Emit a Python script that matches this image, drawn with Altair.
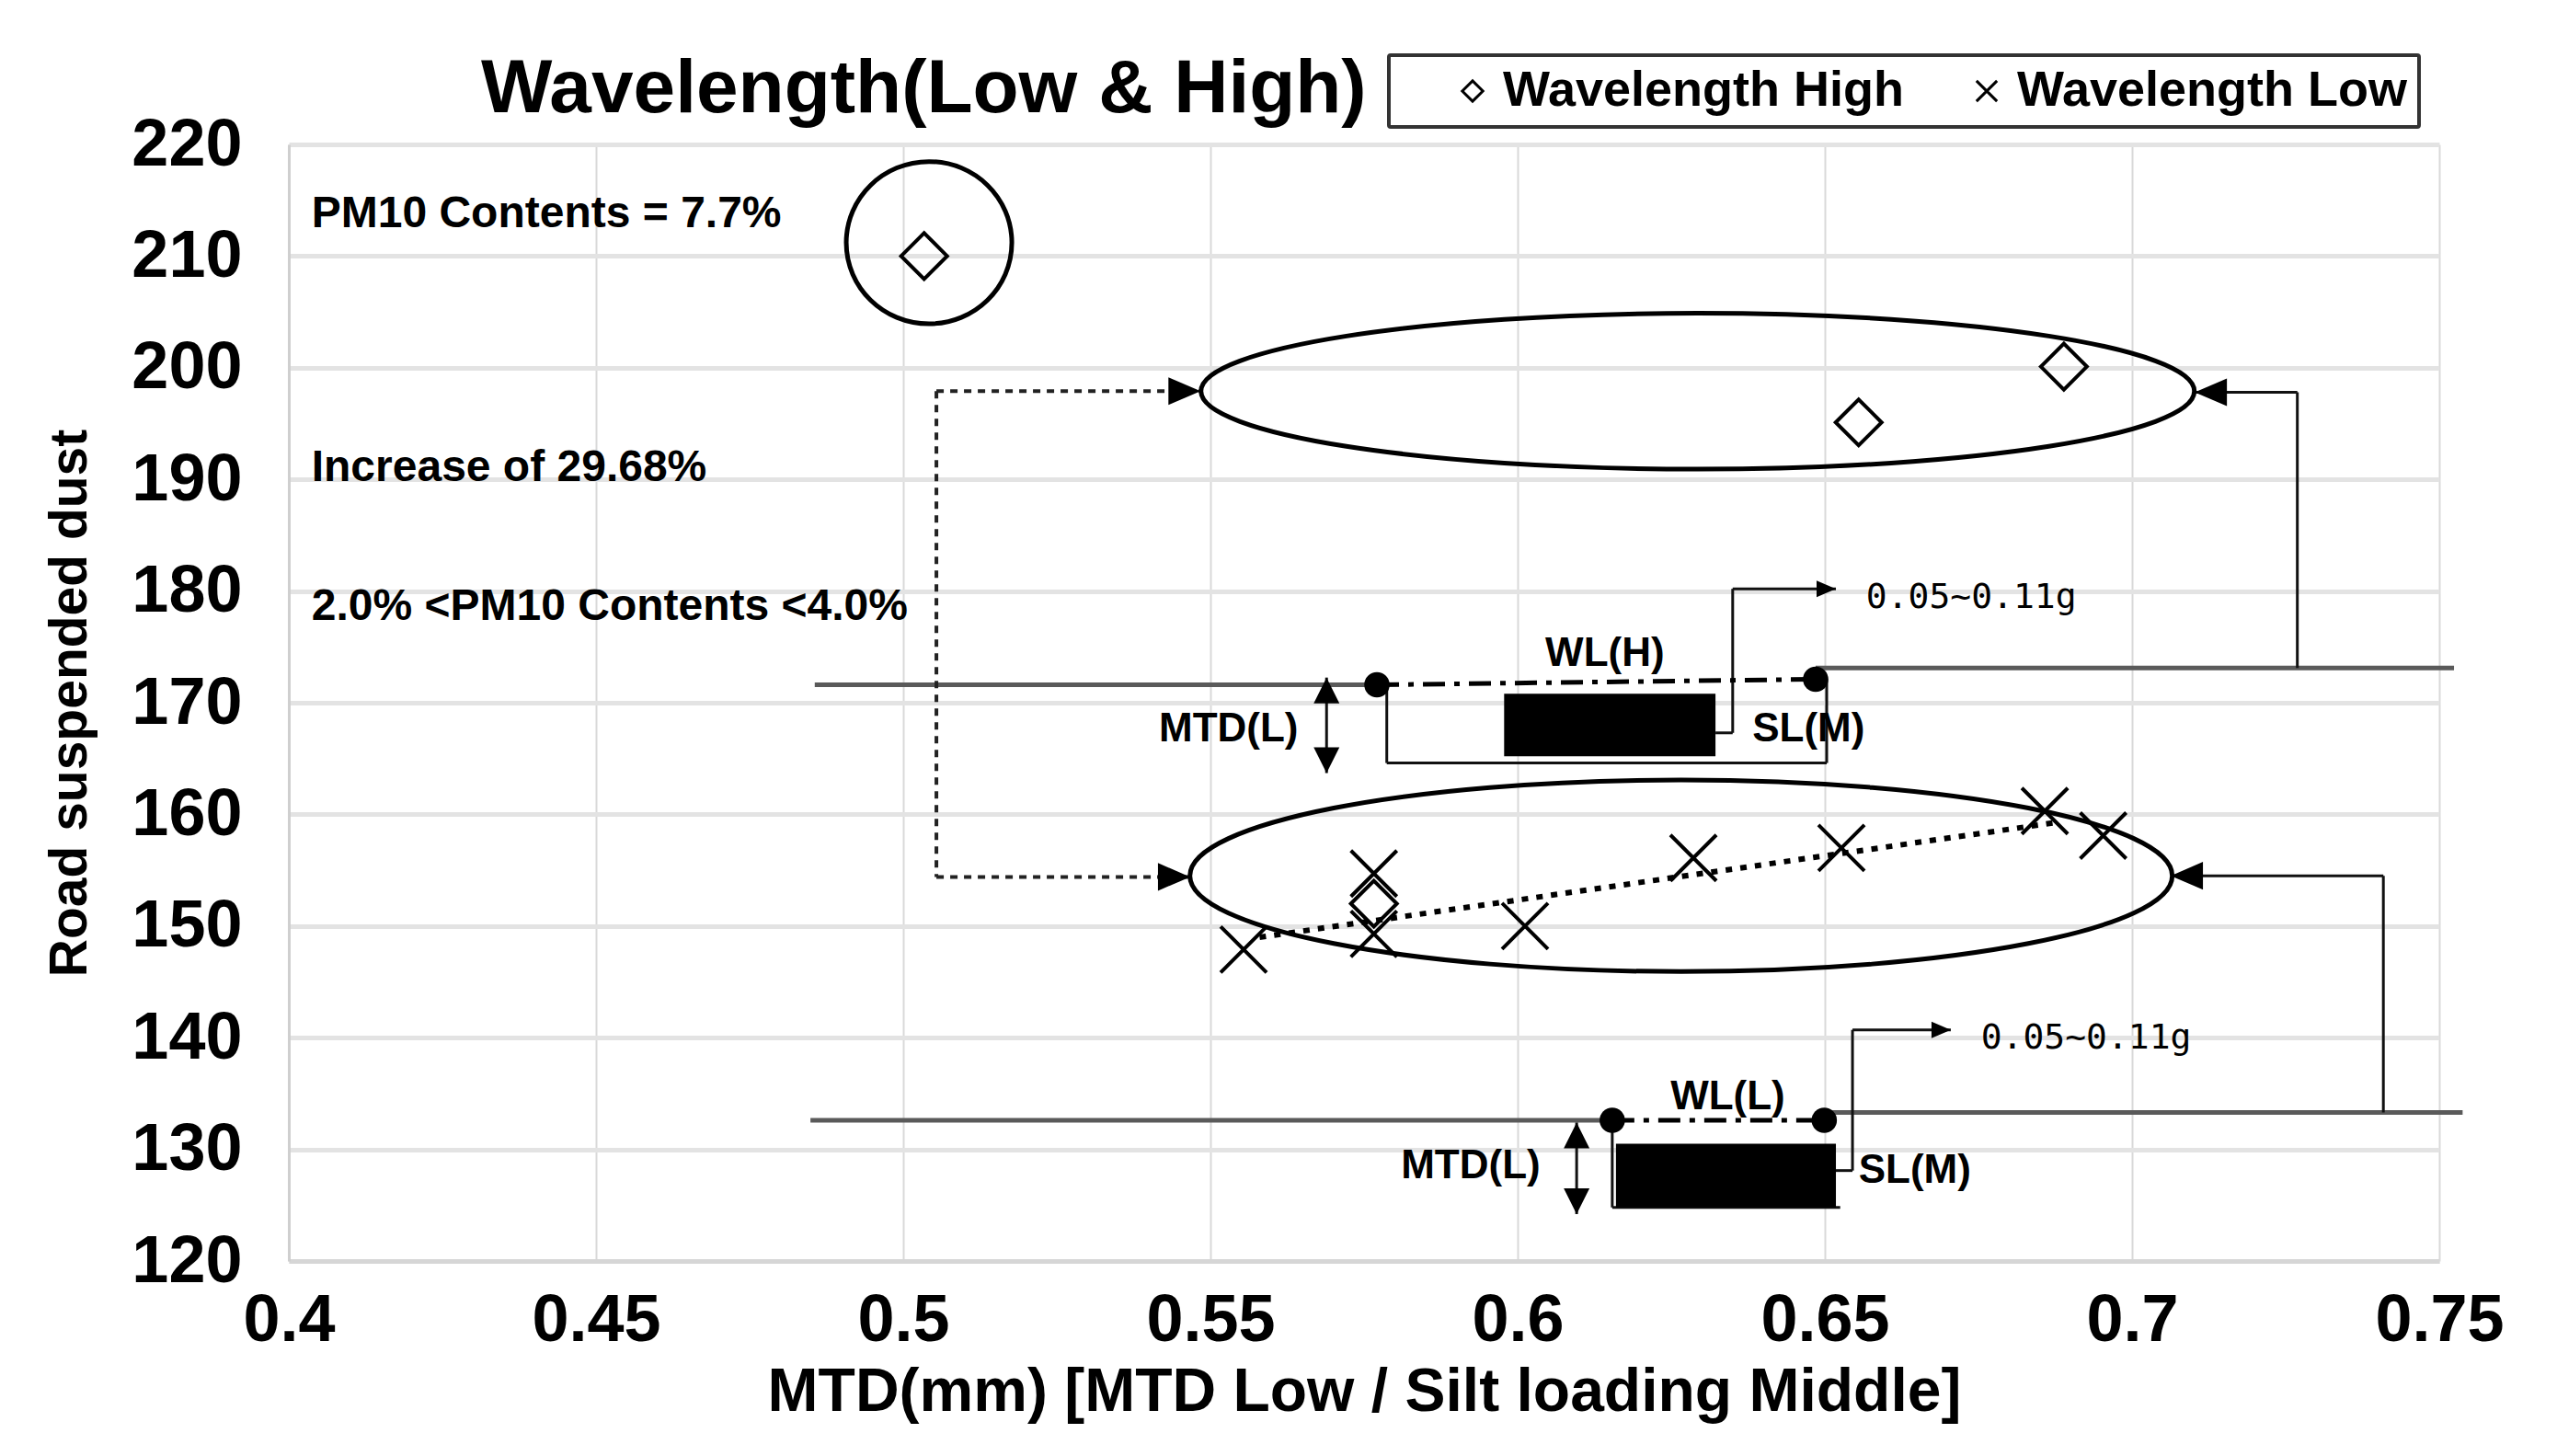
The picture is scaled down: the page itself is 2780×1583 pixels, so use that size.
import altair as alt
import pandas as pd

# ---------------- data ----------------
series_names = ["Wavelength High", "Wavelength Low"]
high_x = [0.5034, 0.6555, 0.6889, 0.5766]
high_y = [210.0, 195.1, 200.1, 152.0]
low_x = [0.5554, 0.5766, 0.5766, 0.6012, 0.6286, 0.6527, 0.6858, 0.6953]
low_y = [147.9, 154.7, 149.3, 150.0, 156.1, 157.0, 160.3, 158.1]

trend_x = [0.558, 0.688]
trend_y = [149.0, 159.3]

# rings (circle around the 7.7 % point, two group ellipses)
ring_x = [0.5042, 0.6293, 0.6266]
ring_y = [211.2, 197.9, 154.5]

# gray "road surface" lines
road_x = [0.4856, 0.6485, 0.4849, 0.6499]
road_x2 = [0.5771, 0.7524, 0.6154, 0.7538]
road_y = [171.6, 173.1, 132.6, 133.3]
road_y2 = [171.6, 173.1, 132.6, 133.3]

# thin solid connector segments
conn_x = [0.7269, 0.7269, 0.7409, 0.7409, 0.5787, 0.5787, 0.6503, 0.6322, 0.6350, 0.6350,
          0.6154, 0.6154, 0.6518, 0.6545, 0.6545, 0.5689, 0.6096]
conn_x2 = [0.7269, 0.7102, 0.7409, 0.7063, 0.5787, 0.6503, 0.6503, 0.6350, 0.6350, 0.6518,
           0.6154, 0.6525, 0.6545, 0.6545, 0.6705, 0.5689, 0.6096]
conn_y = [173.1, 197.8, 133.3, 154.5, 171.6, 164.6, 172.1, 167.3, 167.3, 180.2,
          132.6, 124.8, 128.1, 128.1, 140.7, 172.25, 132.4]
conn_y2 = [197.8, 197.8, 154.5, 154.5, 164.6, 164.6, 164.6, 167.3, 180.2, 180.2,
           124.8, 124.8, 128.1, 140.7, 140.7, 163.7, 124.2]

# dotted connector on the left
dot_x = [0.5054, 0.5054, 0.5054]
dot_x2 = [0.5054, 0.5484, 0.5467]
dot_y = [197.9, 197.9, 154.4]
dot_y2 = [154.4, 197.9, 154.4]

# dash-dot lines between the black dots
dd_x = [0.5771, 0.6154]
dd_x2 = [0.6485, 0.6499]
dd_y = [171.6, 132.6]
dd_y2 = [172.1, 132.6]

# black dots
bdot_x = [0.5771, 0.6485, 0.6154, 0.6499]
bdot_y = [171.6, 172.1, 132.6, 132.6]

# black boxes
box_x = [0.5978, 0.6160]
box_x2 = [0.6322, 0.6518]
box_y = [165.2, 124.8]
box_y2 = [170.8, 130.5]

# arrow heads (tip positions)
arrR_x = [0.5484, 0.5467]
arrR_y = [197.9, 154.4]
arrL_x = [0.7102, 0.7063]
arrL_y = [197.8, 154.5]
arrS_x = [0.6518, 0.6705]
arrS_y = [180.2, 140.7]
arrU_x = [0.5689, 0.6096]
arrU_y = [172.25, 132.4]
arrD_x = [0.5689, 0.6096]
arrD_y = [163.7, 124.2]

# texts
note_text = ["PM10 Contents = 7.7%", "Increase of 29.68%", "2.0% <PM10 Contents <4.0%"]
note_x = [0.4037, 0.4037, 0.4037]
note_y = [213.7, 191.0, 178.6]
wl_text = ["WL(H)", "WL(L)"]
wl_x = [0.6142, 0.6342]
wl_y = [174.4, 134.7]
mtd_text = ["MTD(L)", "MTD(L)"]
mtd_x = [0.5643, 0.6037]
mtd_y = [167.6, 128.5]
sl_text = ["SL(M)", "SL(M)"]
sl_x = [0.6382, 0.6555]
sl_y = [167.6, 128.1]
g_text = ["0.05~0.11g", "0.05~0.11g"]
g_x = [0.6567, 0.6754]
g_y = [179.4, 139.9]

x_ticks = [0.4, 0.45, 0.5, 0.55, 0.6, 0.65, 0.7, 0.75]
y_ticks = [120, 130, 140, 150, 160, 170, 180, 190, 200, 210, 220]

# ---------------- styling helpers ----------------
FONT = "Liberation Sans"
XPATH = "M -1 -1 L 1 1 M -1 1 L 1 -1"
ARROW_R = "M 0 0 L -1 -0.43 L -1 0.43 Z"
ARROW_L = "M 0 0 L 1 -0.43 L 1 0.43 Z"
ARROW_U = "M 0 0 L -0.5 1 L 0.5 1 Z"
ARROW_D = "M 0 0 L -0.5 -1 L 0.5 -1 Z"
NBSP2 = "\u00a0\u00a0"


def ellipse_path(r):
    k = 0.5523
    return (f"M -1 0 C -1 {-k*r:.4f} {-k:.4f} {-r:.4f} 0 {-r:.4f} "
            f"C {k:.4f} {-r:.4f} 1 {-k*r:.4f} 1 0 "
            f"C 1 {k*r:.4f} {k:.4f} {r:.4f} 0 {r:.4f} "
            f"C {-k:.4f} {r:.4f} -1 {k*r:.4f} -1 0 Z")


xscale = alt.Scale(domain=[0.4, 0.75], nice=False, zero=False)
yscale = alt.Scale(domain=[120, 220], nice=False, zero=False)

xaxis = alt.Axis(values=x_ticks, format=".2~f", title="MTD(mm) [MTD Low / Silt loading Middle]",
                 grid=True, gridColor="#d9d9d9", gridWidth=2, ticks=False,
                 domainColor="#d6d6d6", domainWidth=5,
                 labelFont=FONT, labelFontSize=72, labelFontWeight="bold", labelColor="black",
                 labelPadding=29, labelFlush=False, labelOverlap=False,
                 titleFont=FONT, titleFontSize=66, titleFontWeight="bold", titleColor="black",
                 titleX=1169, titleY=162, titleBaseline="alphabetic", titleAlign="center")
yaxis = alt.Axis(values=y_ticks, format="d", title="Road suspended dust",
                 grid=True, gridColor="#e3e3e3", gridWidth=5, ticks=False,
                 domainColor="#cfcfcf", domainWidth=3,
                 labelFont=FONT, labelFontSize=72, labelFontWeight="bold", labelColor="black",
                 labelPadding=51, labelFlush=False, labelOverlap=False,
                 titleFont=FONT, titleFontSize=57, titleFontWeight="bold", titleColor="black",
                 titleX=-221, titleY=607, titleAngle=-90, titleBaseline="alphabetic",
                 titleAlign="center")


def X():
    return alt.X("x:Q", scale=xscale, axis=xaxis)


def Y():
    return alt.Y("y:Q", scale=yscale, axis=yaxis)


def seg_df(xs, x2s, ys, y2s):
    return pd.DataFrame({"x": xs, "x2": x2s, "y": ys, "y2": y2s})


def pt_df(xs, ys, **extra):
    d = {"x": xs, "y": ys}
    d.update(extra)
    return pd.DataFrame(d)


def rules(df, **kw):
    return alt.Chart(df).mark_rule(**kw).encode(x=X(), x2="x2:Q", y=Y(), y2="y2:Q")


def arrows(xs, ys, path, size):
    return alt.Chart(pt_df(xs, ys)).mark_point(shape=path, size=size, filled=True,
                                               color="black", opacity=1, strokeWidth=0).encode(x=X(), y=Y())


def ring(i, ratio, size):
    return alt.Chart(pt_df([ring_x[i]], [ring_y[i]])).mark_point(
        shape=ellipse_path(ratio), size=size, filled=False, color="black",
        strokeWidth=5, opacity=1).encode(x=X(), y=Y())


def texts(txt, xs, ys, align, font=FONT, size=44, weight="bold"):
    return alt.Chart(pt_df(xs, ys, t=txt)).mark_text(
        align=align, baseline="middle", font=font, fontSize=size, fontWeight=weight,
        color="black").encode(x=X(), y=Y(), text="t:N")


scatter_df = pd.DataFrame({
    "x": high_x + low_x,
    "y": high_y + low_y,
    "series": [series_names[0]] * len(high_x) + [series_names[1]] * len(low_x),
})

legend = alt.Legend(title=None, orient="none", legendX=1196, legendY=-97,
                    direction="horizontal", padding=12, strokeColor="#333333",
                    fillColor="white", cornerRadius=2,
                    labelFont=FONT, labelFontSize=54, labelFontWeight="bold", labelColor="black",
                    labelLimit=2000, symbolSize=500, symbolStrokeWidth=3,
                    symbolStrokeColor="black", symbolFillColor="transparent",
                    symbolOffset=52, labelOffset=6, columnPadding=10,
                    labelExpr="datum.label == 'Wavelength Low' ? datum.label + '" + NBSP2 + "' : datum.label")

scatter = alt.Chart(scatter_df).mark_point(filled=False, size=2500, strokeWidth=4,
                                           color="black", opacity=1).encode(
    x=X(), y=Y(),
    shape=alt.Shape("series:N", scale=alt.Scale(domain=series_names, range=["diamond", XPATH]),
                    legend=legend),
)

trend = alt.Chart(pt_df(trend_x, trend_y)).mark_line(
    color="black", strokeWidth=6, strokeDash=[7, 9]).encode(x=X(), y=Y())

layers = [
    rules(seg_df(road_x, road_x2, road_y, road_y2), color="#5a5a5a", strokeWidth=5),
    rules(seg_df(conn_x, conn_x2, conn_y, conn_y2), color="#111111", strokeWidth=3),
    rules(seg_df(dot_x, dot_x2, dot_y, dot_y2), color="#222222", strokeWidth=4, strokeDash=[8, 7]),
    rules(seg_df(dd_x, dd_x2, dd_y, dd_y2), color="black", strokeWidth=5, strokeDash=[24, 10, 6, 10]),
    alt.Chart(seg_df(box_x, box_x2, box_y, box_y2)).mark_rect(color="black").encode(
        x=X(), x2="x2:Q", y=Y(), y2="y2:Q"),
    alt.Chart(pt_df(bdot_x, bdot_y)).mark_point(shape="circle", size=760, filled=True,
                                                color="black", opacity=1).encode(x=X(), y=Y()),
    arrows(arrR_x, arrR_y, ARROW_R, 4900),
    arrows(arrL_x, arrL_y, ARROW_L, 4900),
    arrows(arrS_x, arrS_y, ARROW_R, 1764),
    arrows(arrU_x, arrU_y, ARROW_U, 3136),
    arrows(arrD_x, arrD_y, ARROW_D, 3136),
    ring(0, 0.98, 32400),
    ring(1, 0.157, 1166400),
    ring(2, 0.195, 1140624),
    trend,
    scatter,
    texts(note_text, note_x, note_y, "left", size=48),
    texts(wl_text, wl_x, wl_y, "center"),
    texts(mtd_text, mtd_x, mtd_y, "right"),
    texts(sl_text, sl_x, sl_y, "left"),
    texts(g_text, g_x, g_y, "left", font="DejaVu Sans Mono", size=38, weight="normal"),
]

chart = alt.layer(*layers).properties(
    width=2338, height=1214,
    autosize=alt.AutoSizeParams(type="none"),
    padding={"left": 306, "top": 149, "right": 110, "bottom": 200},
    title=alt.TitleParams("Wavelength(Low & High)", font=FONT, fontSize=82, fontWeight="bold",
                          color="black", anchor="start", frame="group", dx=209, dy=181,
                          offset=35, baseline="alphabetic"),
).configure_view(stroke=None).configure_legend(strokeWidth=4)

chart.save("out.html", embed_options={"renderer": "svg", "actions": False})
